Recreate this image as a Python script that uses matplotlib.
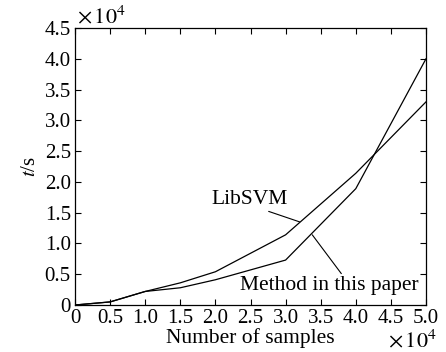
import matplotlib
matplotlib.use('Agg')
import matplotlib.pyplot as plt
import numpy as np

plt.rcParams['font.family'] = ['Liberation Serif', 'DejaVu Serif']
plt.rcParams['mathtext.fontset'] = 'stix'

samples = [0, 0.5, 1.0, 1.5, 2.0, 3.0, 4.0, 5.0]
libsvm = [0, 0.05, 0.22, 0.36, 0.54, 1.14, 2.14, 3.30]
method = [0, 0.05, 0.22, 0.28, 0.41, 0.73, 1.89, 4.00]
ticks = [0, 0.5, 1.0, 1.5, 2.0, 2.5, 3.0, 3.5, 4.0, 4.5, 5.0]
tick_labels = ['0', '0.5', '1.0', '1.5', '2.0', '2.5', '3.0', '3.5', '4.0', '4.5', '5.0']
yticks = [0, 0.5, 1.0, 1.5, 2.0, 2.5, 3.0, 3.5, 4.0, 4.5]
ytick_labels = ['0', '0.5', '1.0', '1.5', '2.0', '2.5', '3.0', '3.5', '4.0', '4.5']

fig = plt.figure(figsize=(4.46, 3.52), dpi=100)
ax = fig.add_axes([75/446, 1-305/352, 351/446, 277/352])

ax.plot(samples, libsvm, color='black', lw=0.9)
ax.plot(samples, method, color='black', lw=0.9)

ax.set_xlim(0, 5.0)
ax.set_ylim(0, 4.5)
ax.set_xticks(ticks)
ax.set_xticklabels(tick_labels)
ax.set_yticks(yticks)
ax.set_yticklabels(ytick_labels)
ax.tick_params(direction='in', top=True, right=True, labelsize=15, length=4, width=0.8)
ax.tick_params(axis='x', pad=3)
ax.tick_params(axis='y', pad=3)
for s in ax.spines.values():
    s.set_linewidth(0.9)

ax.set_xlabel('Number of samples', fontsize=15.5, labelpad=0)
ax.set_ylabel('$t$/s', fontsize=15, labelpad=3)

ax.text(0.005, 1.0, r'$\times\,10^4$', transform=ax.transAxes, fontsize=16, va='bottom', ha='left')
ax.text(1.03, -0.09, r'$\times\,10^4$', transform=ax.transAxes, fontsize=16, va='top', ha='right')

# annotations
ax.annotate('LibSVM', xy=(3.2, 1.35), xytext=(2.49, 1.72), fontsize=15.5,
            ha='center', va='center',
            arrowprops=dict(arrowstyle='-', color='black', lw=0.8, shrinkA=0, shrinkB=0,
                            relpos=(0.64, 0.0)))
ax.annotate('Method in this paper', xy=(3.38, 1.14), xytext=(3.62, 0.31), fontsize=15.5,
            ha='center', va='center',
            arrowprops=dict(arrowstyle='-', color='black', lw=0.8, shrinkA=0, shrinkB=0,
                            relpos=(0.58, 1.0)))

fig.savefig('out.png', dpi=100)
